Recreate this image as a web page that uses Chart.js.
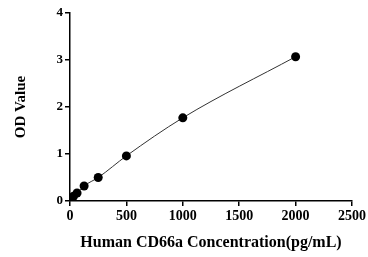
<!DOCTYPE html>
<html>
<head>
<meta charset="utf-8">
<script src="https://cdn.jsdelivr.net/npm/chart.js@4"></script>
<style>
  html, body { margin: 0; padding: 0; background: #fff; }
  #wrap { width: 368px; height: 257px; }
</style>
</head>
<body>
<div id="wrap"><canvas id="myCanvas" width="368" height="257"></canvas></div>
<script>
/*
*Data
*/
const concentrations = [0, 15.6, 31.25, 62.5, 125, 250, 500, 1000, 2000];
const odValues = [0.03, 0.06, 0.1, 0.17, 0.32, 0.5, 0.96, 1.77, 3.07];
const xTicks = [0, 500, 1000, 1500, 2000, 2500];
const yTicks = [0, 1, 2, 3, 4];

const serif = "'Liberation Serif', 'Times New Roman', serif";

/*
*Draw the scatter with a smooth line through the points
*/
function drawGraphic(id){
  var ctx = document.getElementById(id).getContext('2d');
  var points = concentrations.map(function(c, i){ return {x: c, y: odValues[i]}; });
  new Chart(ctx, {
    type: 'scatter',
    data: {
      datasets: [{
        data: points,
        showLine: true,
        cubicInterpolationMode: 'monotone',
        borderColor: '#333',
        borderWidth: 1,
        pointRadius: 4.5,
        pointBackgroundColor: '#000',
        pointBorderColor: '#000',
        pointBorderWidth: 0
      }]
    },
    options: {
      responsive: false,
      animation: false,
      plugins: { legend: { display: false }, tooltip: { enabled: false } },
      layout: { padding: { top: 13, right: 16, left: 0, bottom: 0 } },
      scales: {
        x: {
          type: 'linear',
          min: xTicks[0],
          max: xTicks[xTicks.length - 1],
          afterBuildTicks: function(s){ s.ticks = xTicks.map(function(v){ return {value: v}; }); },
          afterFit: function(s){ s.height = 56; },
          border: { color: '#000', width: 1.5 },
          grid: { drawOnChartArea: false, color: '#000', tickLength: 5, lineWidth: 1.5 },
          ticks: { color: '#000', padding: 2, font: { family: serif, size: 14, weight: 'bold' },
                   callback: function(v){ return String(v); } },
          title: { display: true, text: 'Human CD66a Concentration(pg/mL)', color: '#000', padding: { top: 0, bottom: 5 },
                   font: { family: serif, size: 16, weight: 'bold' } }
        },
        y: {
          min: yTicks[0],
          max: yTicks[yTicks.length - 1],
          afterBuildTicks: function(s){ s.ticks = yTicks.map(function(v){ return {value: v}; }); },
          afterFit: function(s){ s.width = 70; },
          border: { color: '#000', width: 1.5 },
          grid: { drawOnChartArea: false, color: '#000', tickLength: 5, lineWidth: 1.5 },
          ticks: { color: '#000', padding: 2, font: { family: serif, size: 13, weight: 'bold' },
                   callback: function(v){ return String(v); } },
          title: { display: true, text: 'OD Value', color: '#000', padding: { top: 12, bottom: 0 },
                   font: { family: serif, size: 15, weight: 'bold' } }
        }
      }
    }
  });
}

drawGraphic('myCanvas');
</script>
</body>
</html>
